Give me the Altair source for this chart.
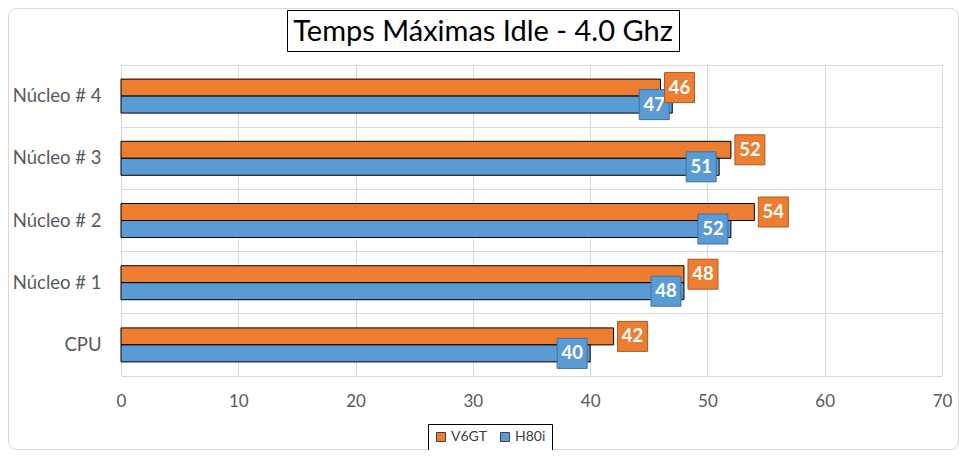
import altair as alt
import pandas as pd

categories = ["Núcleo # 4", "Núcleo # 3", "Núcleo # 2", "Núcleo # 1", "CPU"]
series_names = ["V6GT", "H80i"]
v6gt = [46, 52, 54, 48, 42]
h80i = [47, 51, 52, 48, 40]
title_text = "Temps Máximas Idle - 4.0 Ghz"

rows = []
for c, a, b in zip(categories, v6gt, h80i):
    rows.append({"category": c, "series": "V6GT", "value": a})
    rows.append({"category": c, "series": "H80i", "value": b})
df = pd.DataFrame(rows)
one = pd.DataFrame({"k": [0]})

FONT = "Lato"
ORANGE = "#ED7D31"
BLUE = "#5B9BD5"

x_enc = alt.X("value:Q", scale=alt.Scale(domain=[0, 70]),
              axis=alt.Axis(values=[0, 10, 20, 30, 40, 50, 60, 70], title=None,
                            grid=True, gridColor="#d9d9d9", ticks=False,
                            labelFlush=False, labelOverlap=False,
                            domainColor="#d9d9d9", labelFont=FONT, labelFontSize=17,
                            labelColor="#595959", labelPadding=17))
y_enc = alt.Y("category:N", sort=categories,
              scale=alt.Scale(paddingInner=0, paddingOuter=0),
              axis=alt.Axis(title=None, grid=True, gridColor="#d9d9d9", bandPosition=0,
                            ticks=False, domain=False, labelFont=FONT, labelFontSize=18.5,
                            labelColor="#595959", labelPadding=20))
yoff_enc = alt.YOffset("series:N", sort=series_names,
                       scale=alt.Scale(paddingInner=0, paddingOuter=0.83))

base = alt.Chart(df)

bars = base.mark_bar(stroke="black", strokeWidth=1).encode(
    x=x_enc, y=y_enc, yOffset=yoff_enc,
    color=alt.Color("series:N", sort=series_names,
                    scale=alt.Scale(domain=series_names, range=[ORANGE, BLUE]),
                    legend=alt.Legend(title=None, orient="none", legendX=307, legendY=359,
                                      direction="horizontal", strokeColor="black",
                                      fillColor="white", padding=6, symbolType="square",
                                      symbolSize=81, symbolStrokeColor="#404040",
                                      symbolStrokeWidth=1, labelFont=FONT, labelFontSize=14,
                                      labelColor="#404040", columnPadding=10, labelOffset=3)),
)

def label_layers(name, fill, stroke, dx):
    d = base.transform_filter(alt.datum.series == name)
    sq = d.mark_square(size=900, xOffset=dx, fill=fill, stroke=stroke, strokeWidth=1,
                       opacity=1).encode(x="value:Q", y=alt.Y("category:N", sort=categories),
                                         yOffset=alt.YOffset("series:N", sort=series_names))
    tx = d.mark_text(xOffset=dx, color="white", font=FONT, fontWeight="bold", fontSize=18.5,
                     baseline="middle", align="center").encode(
        x="value:Q", y=alt.Y("category:N", sort=categories),
        yOffset=alt.YOffset("series:N", sort=series_names),
        text=alt.Text("value:Q"))
    return sq, tx

sq_o, tx_o = label_layers("V6GT", ORANGE, "#AE5A21", 19)
sq_b, tx_b = label_layers("H80i", BLUE, "#41719C", -18)

frame = alt.Chart(one).mark_rect(fill="transparent", stroke="#d9d9d9", strokeWidth=1,
                                 cornerRadius=8).encode(
    x=alt.value(-112.5), x2=alt.value(837.5), y=alt.value(-56.5), y2=alt.value(384.5))
title_box = alt.Chart(one).mark_rect(fill="white", stroke="black", strokeWidth=1).encode(
    x=alt.value(166.5), x2=alt.value(558.5), y=alt.value(-54.5), y2=alt.value(-13.5))
title = alt.Chart(one).mark_text(font=FONT, fontSize=29, color="black", align="center",
                                 baseline="alphabetic").encode(
    x=alt.value(362), y=alt.value(-24.5), text=alt.value(title_text))

chart = alt.layer(frame, title_box, title, bars, sq_b, tx_b, sq_o, tx_o).properties(
    width=821, height=311,
    autosize=alt.AutoSizeParams(type="none"),
    padding={"left": 113, "top": 57, "right": 17, "bottom": 74},
    background="white",
).configure_view(stroke=None)

chart.save("out.html", embed_options={"renderer": "svg", "actions": False})
